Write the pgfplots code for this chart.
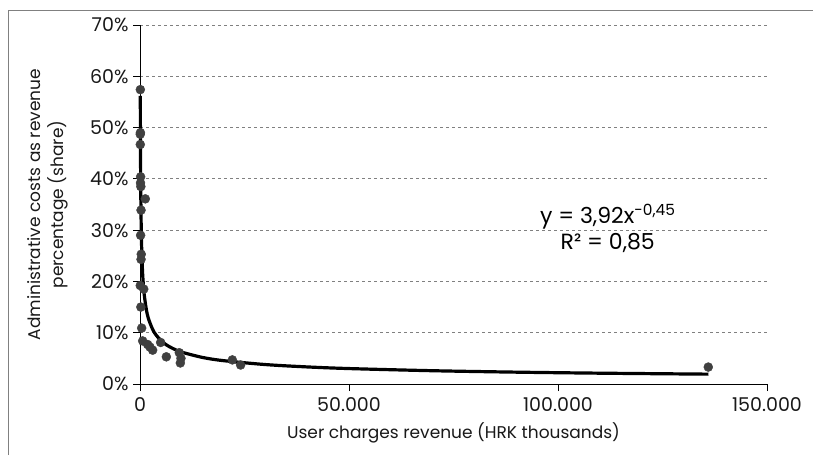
\documentclass[border=0pt]{standalone}
\usepackage{pgfplots}
\pgfplotsset{compat=1.18}
\usepackage{fontspec}
\setmainfont{Poppins}
\definecolor{pt}{HTML}{404040}
\definecolor{gridc}{HTML}{808080}
\begin{document}
\begin{tikzpicture}[x=1pt,y=1pt]
\path[use as bounding box] (0,0) rectangle (813,455);
\draw[gridc,line width=1pt] (8,0) -- (8,444) -- (813,444);
\begin{axis}[
  at={(140pt,71pt)}, anchor=south west,
  scale only axis, width=627pt, height=359pt,
  xmin=0, xmax=150000, ymin=0, ymax=70,
  axis lines*=left,
  axis line style={black, line width=0.9pt},
  xtick={0,50000,100000,150000},
  xticklabels={0,50.000,100.000,150.000},
  ytick={0,10,...,70},
  yticklabel={\pgfmathprintnumber{\tick}\%},
  /pgf/number format/assume math mode=true,
  scaled x ticks=false,
  tick align=outside,
  major tick length=7pt,
  tick style={black, line width=0.8pt},
  ymajorgrids,
  grid style={gridc, dashed, line width=0.8pt},
  ticklabel style={font=\fontsize{19}{22}\selectfont, text=black!90},
  xticklabel style={yshift=-3pt},
  yticklabel style={xshift=-1pt},
  xlabel={User charges revenue (HRK thousands)},
  ylabel={\begin{tabular}{c}Administrative costs as revenue\\[1pt]percentage (share)\end{tabular}},
  label style={font=\fontsize{17}{21}\selectfont, text=black!90},
  xlabel style={yshift=-4pt},
  ylabel style={yshift=13pt},
  clip=false,
]
\addplot[only marks, mark=*, mark size=4.5pt, mark options={fill=pt, draw=pt}] coordinates {
(80,57.4) (100,49.0) (60,48.7) (70,46.7) (150,40.4) (120,39.2) (200,38.5)
(1270,36.1) (250,33.9) (150,29.0) (300,25.3) (250,24.3) (60,19.2) (900,18.5)
(200,15.0) (400,10.9) (640,8.4) (1830,7.7) (2390,7.2) (3030,6.6) (4940,8.1)
(6300,5.3) (9400,6.1) (9650,4.1) (9800,5.0) (22090,4.7) (24070,3.7) (135950,3.3)
};
\addplot[black, line width=3.2pt, smooth] coordinates {
(75,56.2) (100,49.4) (150,41.1) (200,36.1) (300,30.1) (400,26.5) (600,22.0)
(800,19.4) (1000,17.5) (1500,14.6) (2000,12.8) (3000,10.7) (4000,9.38)
(6000,7.81) (8000,6.87) (10000,6.21) (15000,5.17) (20000,4.55) (30000,3.79)
(40000,3.33) (50000,3.01) (70000,2.59) (90000,2.31) (110000,2.11) (136000,1.92)
};
\node[font=\fontsize{22}{25}\selectfont, text=black] at (axis cs:111900,32.6) {y = 3,92x\textsuperscript{-0,45}};
\node[font=\fontsize{22}{25}\selectfont, text=black] at (axis cs:111900,27.4) {R² = 0,85};
\end{axis}
\end{tikzpicture}
\end{document}
